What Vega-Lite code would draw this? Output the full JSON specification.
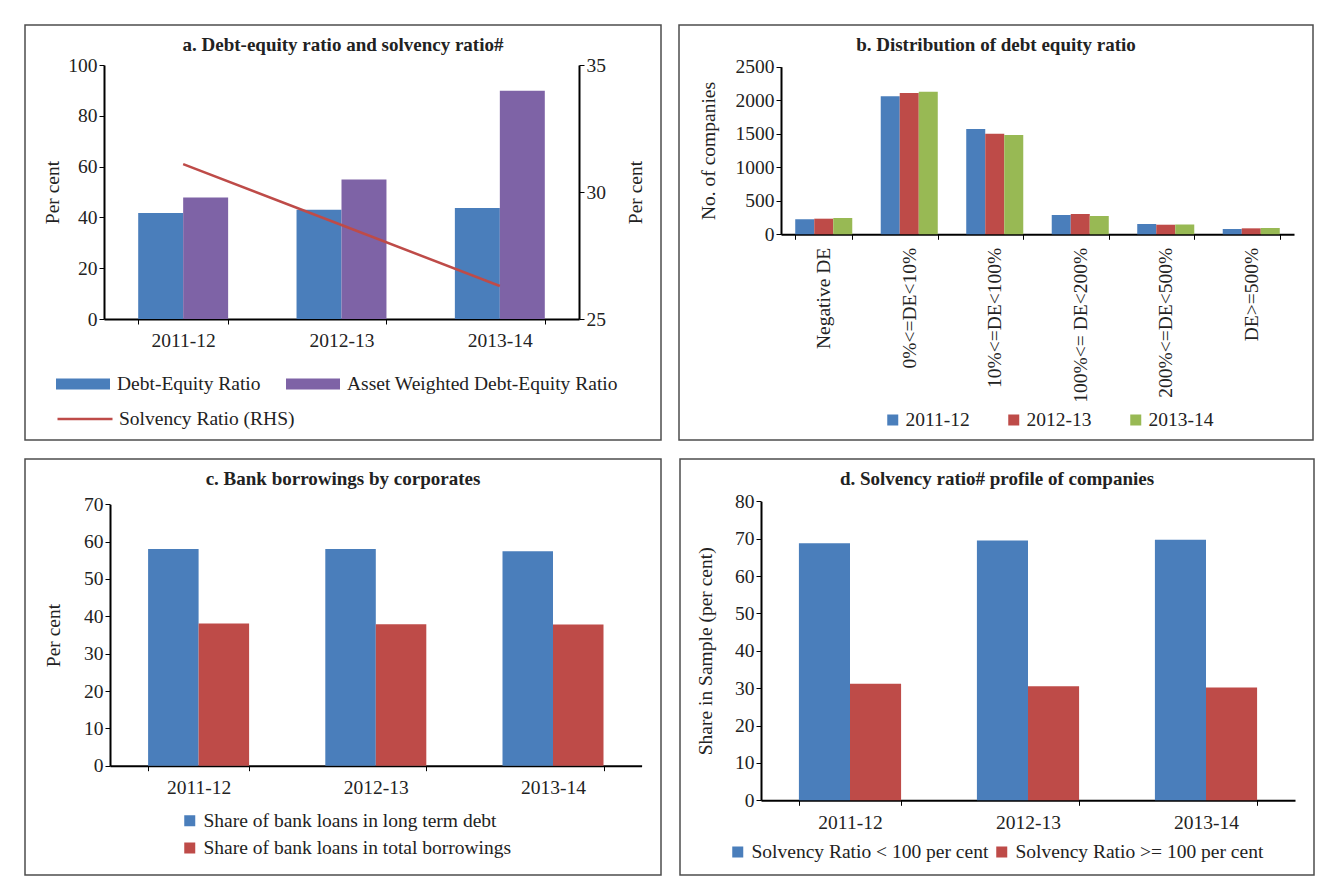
{
  "$schema": "https://vega.github.io/schema/vega-lite/v6.json",
  "background": "white",
  "padding": {"left": 24, "top": 24, "right": 10, "bottom": 10},
  "datasets": {
    "pa_bars": [
      {"year": "2011-12", "series": "Debt-Equity Ratio", "value": 41.7},
      {"year": "2012-13", "series": "Debt-Equity Ratio", "value": 43.0},
      {"year": "2013-14", "series": "Debt-Equity Ratio", "value": 43.7},
      {"year": "2011-12", "series": "Asset Weighted Debt-Equity Ratio", "value": 47.8},
      {"year": "2012-13", "series": "Asset Weighted Debt-Equity Ratio", "value": 54.9},
      {"year": "2013-14", "series": "Asset Weighted Debt-Equity Ratio", "value": 89.9}
    ],
    "pa_line": [
      {"year": "2011-12", "series": "Solvency Ratio (RHS)", "value": 31.1},
      {"year": "2012-13", "series": "Solvency Ratio (RHS)", "value": 28.7},
      {"year": "2013-14", "series": "Solvency Ratio (RHS)", "value": 26.3}
    ],
    "pb": [
      {"cat": "Negative DE", "year": "2011-12", "value": 224},
      {"cat": "Negative DE", "year": "2012-13", "value": 233},
      {"cat": "Negative DE", "year": "2013-14", "value": 243},
      {"cat": "0%<=DE<10%", "year": "2011-12", "value": 2058},
      {"cat": "0%<=DE<10%", "year": "2012-13", "value": 2108},
      {"cat": "0%<=DE<10%", "year": "2013-14", "value": 2127},
      {"cat": "10%<=DE<100%", "year": "2011-12", "value": 1571},
      {"cat": "10%<=DE<100%", "year": "2012-13", "value": 1501},
      {"cat": "10%<=DE<100%", "year": "2013-14", "value": 1481},
      {"cat": "100%<= DE<200%", "year": "2011-12", "value": 288},
      {"cat": "100%<= DE<200%", "year": "2012-13", "value": 303},
      {"cat": "100%<= DE<200%", "year": "2013-14", "value": 273},
      {"cat": "200%<=DE<500%", "year": "2011-12", "value": 154},
      {"cat": "200%<=DE<500%", "year": "2012-13", "value": 143},
      {"cat": "200%<=DE<500%", "year": "2013-14", "value": 148},
      {"cat": "DE>=500%", "year": "2011-12", "value": 79},
      {"cat": "DE>=500%", "year": "2012-13", "value": 89},
      {"cat": "DE>=500%", "year": "2013-14", "value": 94}
    ],
    "pc": [
      {"year": "2011-12", "series": "Share of bank loans in long term debt", "value": 58.0},
      {"year": "2012-13", "series": "Share of bank loans in long term debt", "value": 58.0},
      {"year": "2013-14", "series": "Share of bank loans in long term debt", "value": 57.4},
      {"year": "2011-12", "series": "Share of bank loans in total borrowings", "value": 38.1},
      {"year": "2012-13", "series": "Share of bank loans in total borrowings", "value": 37.9},
      {"year": "2013-14", "series": "Share of bank loans in total borrowings", "value": 37.8}
    ],
    "pd": [
      {"year": "2011-12", "series": "Solvency Ratio < 100 per cent", "value": 68.8},
      {"year": "2012-13", "series": "Solvency Ratio < 100 per cent", "value": 69.5},
      {"year": "2013-14", "series": "Solvency Ratio < 100 per cent", "value": 69.7},
      {"year": "2011-12", "series": "Solvency Ratio >= 100 per cent", "value": 31.2},
      {"year": "2012-13", "series": "Solvency Ratio >= 100 per cent", "value": 30.5},
      {"year": "2013-14", "series": "Solvency Ratio >= 100 per cent", "value": 30.2}
    ]
  },
  "vconcat": [
    {
      "hconcat": [
        {
          "width": 636,
          "height": 415,
          "title": {"text": "a. Debt-equity ratio and solvency ratio#", "offset": -30, "anchor": "middle", "frame": "group"},
          "layer": [
            {
              "data": {"name": "pa_bars"},
              "mark": {"type": "bar"},
              "encoding": {
                "x": {"field": "year", "type": "nominal", "sort": null,
                  "scale": {"range": [79, 554], "paddingInner": 0.432, "paddingOuter": 0.216},
                  "axis": {"title": null, "labelAngle": 0, "tickBand": "extent", "offset": -121, "labelPadding": 7}},
                "xOffset": {"field": "series", "type": "nominal", "sort": ["Debt-Equity Ratio", "Asset Weighted Debt-Equity Ratio"]},
                "y": {"field": "value", "type": "quantitative",
                  "scale": {"domain": [0, 100], "range": [294, 40], "nice": false},
                  "axis": {"title": "Per cent", "values": [0, 20, 40, 60, 80, 100], "offset": -79, "titlePadding": 5}},
                "color": {"field": "series", "type": "nominal",
                  "scale": {"domain": ["Debt-Equity Ratio", "Asset Weighted Debt-Equity Ratio"], "range": ["#4A7EBB", "#7E63A6"]},
                  "legend": {"title": null, "orient": "none", "legendX": 30, "legendY": 349, "direction": "horizontal",
                    "symbolType": "M-1,-0.2H1V0.2H-1Z", "symbolSize": 2916, "clipHeight": 20, "labelOffset": 6,
                    "columnPadding": 24, "padding": 0, "symbolOpacity": 1, "labelLimit": 400}}
              }
            },
            {
              "data": {"name": "pa_line"},
              "mark": {"type": "line", "strokeWidth": 2.5},
              "encoding": {
                "x": {"field": "year", "type": "nominal", "sort": null},
                "y": {"field": "value", "type": "quantitative",
                  "scale": {"domain": [25, 35], "range": [294, 40], "nice": false},
                  "axis": {"title": "Per cent", "orient": "right", "values": [25, 30, 35], "offset": -82, "titleAngle": 270, "titlePadding": 40}},
                "stroke": {"field": "series", "type": "nominal",
                  "scale": {"domain": ["Solvency Ratio (RHS)"], "range": ["#BE4B48"]},
                  "legend": {"title": null, "orient": "none", "legendX": 31, "legendY": 384, "symbolType": "stroke",
                    "symbolSize": 3025, "symbolStrokeWidth": 2.5, "clipHeight": 20, "labelOffset": 5, "padding": 0, "labelLimit": 400}}
              }
            }
          ],
          "resolve": {"scale": {"y": "independent"}}
        },
        {
          "width": 634,
          "height": 415,
          "title": {"text": "b. Distribution of debt equity ratio", "offset": -30, "anchor": "middle", "frame": "group"},
          "data": {"name": "pb"},
          "mark": {"type": "bar"},
          "encoding": {
            "x": {"field": "cat", "type": "nominal", "sort": null,
              "scale": {"range": [102, 615], "paddingInner": 0.333, "paddingOuter": 0.1665},
              "axis": {"title": null, "labelAngle": -90, "tickBand": "extent", "offset": -205.7, "labelPadding": 8}},
            "xOffset": {"field": "year", "type": "nominal", "sort": ["2011-12", "2012-13", "2013-14"]},
            "y": {"field": "value", "type": "quantitative",
              "scale": {"domain": [0, 2500], "range": [209.3, 41.7], "nice": false},
              "axis": {"title": "No. of companies", "values": [0, 500, 1000, 1500, 2000, 2500], "format": "d", "offset": -102, "titlePadding": 17}},
            "color": {"field": "year", "type": "nominal",
              "scale": {"domain": ["2011-12", "2012-13", "2013-14"], "range": ["#4A7EBB", "#BE4B48", "#98B954"]},
              "legend": {"title": null, "orient": "none", "legendX": 204, "legendY": 385, "direction": "horizontal",
                "symbolType": "square", "symbolSize": 121, "clipHeight": 20, "labelOffset": 3, "columnPadding": 34,
                "padding": 0, "symbolOpacity": 1, "labelLimit": 400}}
          }
        }
      ],
      "spacing": 6,
      "resolve": {"scale": {"color": "independent", "xOffset": "independent", "stroke": "independent"}, "legend": {"color": "independent", "stroke": "independent"}}
    },
    {
      "hconcat": [
        {
          "width": 636,
          "height": 416,
          "title": {"text": "c. Bank borrowings by corporates", "offset": -30, "anchor": "middle", "frame": "group"},
          "data": {"name": "pc"},
          "mark": {"type": "bar"},
          "encoding": {
            "x": {"field": "year", "type": "nominal", "sort": null,
              "scale": {"range": [85, 616.6], "paddingInner": 0.43, "paddingOuter": 0.215},
              "axis": {"title": null, "labelAngle": 0, "tickBand": "extent", "offset": -109.3, "labelPadding": 8}},
            "xOffset": {"field": "series", "type": "nominal", "sort": ["Share of bank loans in long term debt", "Share of bank loans in total borrowings"]},
            "y": {"field": "value", "type": "quantitative",
              "scale": {"domain": [0, 70], "range": [306.7, 45.3], "nice": false},
              "axis": {"title": "Per cent", "values": [0, 10, 20, 30, 40, 50, 60, 70], "offset": -85, "titlePadding": 20}},
            "color": {"field": "series", "type": "nominal",
              "scale": {"domain": ["Share of bank loans in long term debt", "Share of bank loans in total borrowings"], "range": ["#4A7EBB", "#BE4B48"]},
              "legend": {"title": null, "orient": "none", "legendX": 155, "legendY": 351.7, "direction": "vertical",
                "symbolType": "square", "symbolSize": 121, "clipHeight": 20, "labelOffset": 4, "rowPadding": 7.3,
                "padding": 0, "symbolOpacity": 1, "labelLimit": 400}}
          }
        },
        {
          "width": 634,
          "height": 416,
          "title": {"text": "d. Solvency ratio# profile of companies", "offset": -30, "anchor": "middle", "frame": "group"},
          "data": {"name": "pd"},
          "mark": {"type": "bar"},
          "encoding": {
            "x": {"field": "year", "type": "nominal", "sort": null,
              "scale": {"range": [81, 615], "paddingInner": 0.426, "paddingOuter": 0.213},
              "axis": {"title": null, "labelAngle": 0, "tickBand": "extent", "offset": -74.7, "labelPadding": 8}},
            "xOffset": {"field": "series", "type": "nominal", "sort": ["Solvency Ratio < 100 per cent", "Solvency Ratio >= 100 per cent"]},
            "y": {"field": "value", "type": "quantitative",
              "scale": {"domain": [0, 80], "range": [341.3, 42.3], "nice": false},
              "axis": {"title": "Share in Sample (per cent)", "values": [0, 10, 20, 30, 40, 50, 60, 70, 80], "offset": -81, "titlePadding": 19}},
            "color": {"field": "series", "type": "nominal",
              "scale": {"domain": ["Solvency Ratio < 100 per cent", "Solvency Ratio >= 100 per cent"], "range": ["#4A7EBB", "#BE4B48"]},
              "legend": {"title": null, "orient": "none", "legendX": 48, "legendY": 383, "direction": "horizontal",
                "symbolType": "square", "symbolSize": 121, "clipHeight": 20, "labelOffset": 4, "columnPadding": 3,
                "padding": 0, "symbolOpacity": 1, "labelLimit": 400}}
          }
        }
      ],
      "spacing": 17,
      "resolve": {"scale": {"color": "independent", "xOffset": "independent"}, "legend": {"color": "independent"}}
    }
  ],
  "spacing": 17,
  "resolve": {"scale": {"color": "independent", "xOffset": "independent", "stroke": "independent"}, "legend": {"color": "independent", "stroke": "independent"}},
  "config": {
    "font": "Liberation Serif",
    "view": {"stroke": "#4d4d4d", "strokeWidth": 1.5, "fill": "white"},
    "axis": {
      "labelFont": "Liberation Serif", "labelFontSize": 19.5, "labelColor": "#222",
      "titleFont": "Liberation Serif", "titleFontSize": 19.5, "titleFontWeight": "normal", "titleColor": "#222",
      "domainColor": "#000", "domainWidth": 2, "tickColor": "#000", "tickWidth": 1, "tickSize": 5, "grid": false
    },
    "legend": {"labelFont": "Liberation Serif", "labelFontSize": 19.5, "labelColor": "#222"},
    "title": {"font": "Liberation Serif", "fontSize": 19, "fontWeight": "bold", "color": "#222"}
  }
}
